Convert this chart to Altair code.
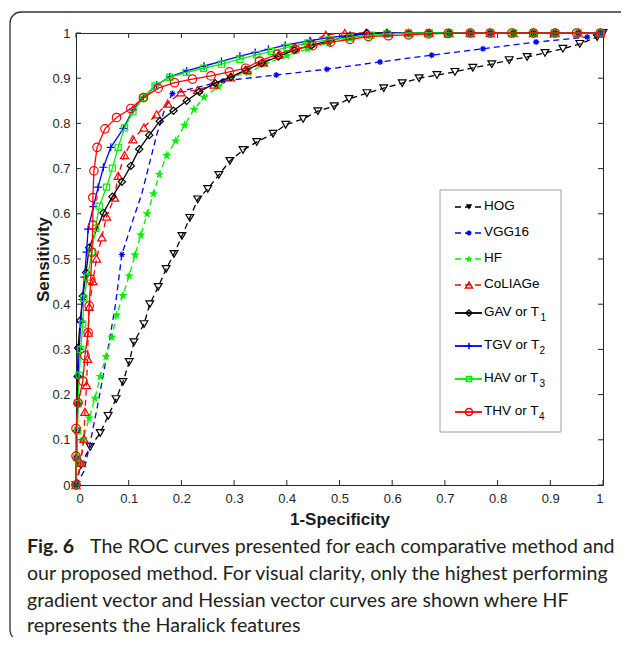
import altair as alt
import pandas as pd

TICKS = [0, 0.1, 0.2, 0.3, 0.4, 0.5, 0.6, 0.7, 0.8, 0.9, 1.0]

HOG_FPR = [0, 0.009, 0.027, 0.046, 0.061, 0.076, 0.089, 0.101, 0.110, 0.129, 0.140, 0.156, 0.171, 0.186, 0.201,
           0.216, 0.231, 0.250, 0.271, 0.292, 0.317, 0.343, 0.374, 0.398, 0.431, 0.459, 0.490, 0.518, 0.552,
           0.584, 0.619, 0.651, 0.685, 0.719, 0.753, 0.789, 0.822, 0.856, 0.890, 0.924, 0.956, 0.989, 1.0]
HOG_TPR = [0, 0.044, 0.084, 0.115, 0.153, 0.190, 0.228, 0.272, 0.316, 0.356, 0.400, 0.438, 0.478, 0.511, 0.551,
           0.591, 0.632, 0.655, 0.686, 0.717, 0.741, 0.759, 0.777, 0.797, 0.810, 0.827, 0.838, 0.854, 0.867,
           0.878, 0.889, 0.900, 0.907, 0.914, 0.923, 0.931, 0.940, 0.947, 0.956, 0.965, 0.976, 0.991, 1.0]

VGG_FPR = [0, 0.015, 0.028, 0.040, 0.052, 0.062, 0.075, 0.087, 0.108, 0.125, 0.153, 0.169, 0.183, 0.279,
           0.380, 0.476, 0.577, 0.675, 0.772, 0.873, 0.970, 1.0]
VGG_TPR = [0, 0.03, 0.10, 0.17, 0.245, 0.31, 0.40, 0.51, 0.586, 0.645, 0.774, 0.834, 0.866, 0.894,
           0.907, 0.920, 0.936, 0.951, 0.965, 0.980, 0.991, 1.0]
VGG_MARKED = [0, 7, 12, 13, 14, 15, 16, 17, 18, 19, 20, 21]

HF_FPR = [0, 0.008, 0.014, 0.025, 0.036, 0.046, 0.057, 0.068, 0.077, 0.089, 0.101, 0.112, 0.123, 0.135,
          0.147, 0.158, 0.172, 0.189, 0.206, 0.224, 0.243, 0.270, 0.295, 0.327, 0.360, 0.400, 0.440, 0.480,
          0.520, 0.555, 0.590, 0.631, 0.670, 0.708, 0.748, 0.786, 0.830, 0.868, 0.909, 0.953, 0.995]
HF_TPR = [0, 0.05, 0.102, 0.148, 0.192, 0.240, 0.284, 0.327, 0.376, 0.419, 0.463, 0.509, 0.553, 0.600,
          0.644, 0.687, 0.729, 0.761, 0.796, 0.831, 0.858, 0.881, 0.903, 0.912, 0.932, 0.950, 0.965, 0.978,
          0.988, 0.994, 0.997, 1, 1, 1, 1, 1, 1, 1, 1, 1, 1]

COL_FPR = [0, 0.009, 0.015, 0.017, 0.020, 0.022, 0.023, 0.025, 0.032, 0.039, 0.049, 0.058, 0.073, 0.080,
           0.092, 0.108, 0.129, 0.153, 0.174, 0.199, 0.231, 0.262, 0.293, 0.325, 0.355, 0.385, 0.415, 0.445,
           0.474, 0.510, 0.550, 0.590, 0.631, 0.670, 0.708, 0.748, 0.786, 0.830, 0.868, 0.909, 0.953, 0.995]
COL_TPR = [0, 0.049, 0.102, 0.162, 0.221, 0.279, 0.337, 0.394, 0.451, 0.501, 0.548, 0.594, 0.636, 0.684,
           0.730, 0.765, 0.791, 0.820, 0.844, 0.869, 0.874, 0.886, 0.902, 0.918, 0.935, 0.952, 0.968, 0.981,
           0.996, 1, 1, 1, 1, 1, 1, 1, 1, 1, 1, 1, 1, 1]

GAV_FPR = [0, 0.001, 0.002, 0.003, 0.003, 0.004, 0.008, 0.013, 0.019, 0.025, 0.052, 0.069, 0.087, 0.104,
           0.120, 0.139, 0.159, 0.185, 0.210, 0.234, 0.264, 0.294, 0.322, 0.352, 0.384, 0.414, 0.447, 0.482,
           0.516, 0.552, 0.590, 0.631, 0.670, 0.708, 0.748, 0.786, 0.830, 0.868, 0.909, 0.953, 0.995]
GAV_TPR = [0, 0.06, 0.12, 0.18, 0.24, 0.303, 0.364, 0.418, 0.470, 0.525, 0.602, 0.638, 0.671, 0.706,
           0.743, 0.774, 0.805, 0.828, 0.850, 0.870, 0.889, 0.903, 0.918, 0.933, 0.948, 0.962, 0.973, 0.983,
           0.992, 1, 1, 1, 1, 1, 1, 1, 1, 1, 1, 1, 1]

TGV_FPR = [0, 0.001, 0.002, 0.003, 0.004, 0.006, 0.009, 0.012, 0.016, 0.020, 0.023, 0.033, 0.042, 0.052,
           0.066, 0.090, 0.108, 0.128, 0.153, 0.178, 0.210, 0.243, 0.276, 0.311, 0.340, 0.365, 0.397, 0.444,
           0.480, 0.520, 0.555, 0.590, 0.631, 0.670, 0.708, 0.748, 0.786, 0.830, 0.868, 0.909, 0.953, 0.995]
TGV_TPR = [0, 0.06, 0.12, 0.18, 0.24, 0.30, 0.36, 0.41, 0.46, 0.515, 0.566, 0.616, 0.659, 0.703,
           0.747, 0.789, 0.830, 0.858, 0.885, 0.903, 0.916, 0.927, 0.937, 0.949, 0.957, 0.964, 0.973, 0.983,
           0.990, 0.995, 0.998, 1, 1, 1, 1, 1, 1, 1, 1, 1, 1, 1]

HAV_FPR = [0, 0.001, 0.003, 0.004, 0.006, 0.009, 0.013, 0.015, 0.022, 0.030, 0.037, 0.044, 0.058, 0.069,
           0.080, 0.092, 0.108, 0.128, 0.150, 0.178, 0.209, 0.242, 0.276, 0.311, 0.343, 0.371, 0.400, 0.440,
           0.480, 0.520, 0.560, 0.590, 0.631, 0.670, 0.708, 0.748, 0.786, 0.830, 0.868, 0.909, 0.953, 0.995]
HAV_TPR = [0, 0.06, 0.12, 0.18, 0.243, 0.30, 0.356, 0.413, 0.46, 0.516, 0.568, 0.617, 0.659, 0.701,
           0.747, 0.790, 0.826, 0.857, 0.883, 0.902, 0.913, 0.922, 0.931, 0.942, 0.952, 0.959, 0.968, 0.978,
           0.985, 0.990, 0.995, 0.998, 1, 1, 1, 1, 1, 1, 1, 1, 1, 1]

THV_FPR = [0, 0, 0, 0.004, 0.013, 0.017, 0.023, 0.025, 0.028, 0.030, 0.032, 0.032, 0.034, 0.040,
           0.055, 0.077, 0.104, 0.128, 0.156, 0.187, 0.221, 0.256, 0.291, 0.322, 0.348, 0.382, 0.416, 0.449,
           0.483, 0.520, 0.555, 0.593, 0.631, 0.669, 0.706, 0.748, 0.786, 0.827, 0.868, 0.909, 0.950, 0.995]
THV_TPR = [0, 0.064, 0.125, 0.182, 0.230, 0.286, 0.337, 0.396, 0.455, 0.515, 0.575, 0.636, 0.695, 0.747,
           0.788, 0.813, 0.833, 0.857, 0.878, 0.890, 0.898, 0.905, 0.914, 0.922, 0.938, 0.953, 0.964, 0.972,
           0.980, 0.986, 0.992, 0.994, 0.996, 0.998, 0.999, 1, 1, 1, 1, 1, 1, 1]

NAMES = ["HOG", "VGG16", "HF", "CoLIAGe", "GAV or T", "TGV or T", "HAV or T", "THV or T"]
SUBS = ["", "", "", "", "1", "2", "3", "4"]

CAPTION_BOLD = "Fig. 6"
CAPTION = [
    "The ROC curves presented for each comparative method and",
    "our proposed method. For visual clarity, only the highest performing",
    "gradient vector and Hessian vector curves are shown where HF",
    "represents the Haralick features",
]

# ---------------------------------------------------------------- styles
W, H = 527, 452
FONT = "Liberation Sans"
CAP_FONT = "Lato"
CAP_SIZE = 19.6
STAR = ("M0,-1L0.235,-0.324L0.951,-0.309L0.380,0.124L0.588,0.809L0,0.400"
        "L-0.588,0.809L-0.380,0.124L-0.951,-0.309L-0.235,-0.324Z")
PLUS = "M-1,0L1,0M0,-1L0,1"
ASTER = "M-1,0L1,0M0,-1L0,1M-0.7,-0.7L0.7,0.7M-0.7,0.7L0.7,-0.7"

STYLES = [
    dict(color="#000000", dash=[6, 4], shape="triangle-down", filled=False, size=60),
    dict(color="#0000ff", dash=[6, 4], shape=ASTER, filled=False, size=36),
    dict(color="#00f000", dash=[6, 4], shape=STAR, filled=True, size=95),
    dict(color="#ff0000", dash=[6, 4], shape="triangle-up", filled=False, size=68),
    dict(color="#000000", dash=None, shape="diamond", filled=False, size=52),
    dict(color="#0000ff", dash=None, shape=PLUS, filled=False, size=64),
    dict(color="#00f000", dash=None, shape="square", filled=False, size=38),
    dict(color="#ff0000", dash=None, shape="circle", filled=False, size=72),
]

SERIES = [
    (HOG_FPR, HOG_TPR, None),
    (VGG_FPR, VGG_TPR, VGG_MARKED),
    (HF_FPR, HF_TPR, None),
    (COL_FPR, COL_TPR, None),
    (GAV_FPR, GAV_TPR, None),
    (TGV_FPR, TGV_TPR, None),
    (HAV_FPR, HAV_TPR, None),
    (THV_FPR, THV_TPR, None),
]

xs = alt.Scale(domain=[0, 1], nice=False, zero=False)
ys = alt.Scale(domain=[0, 1], nice=False, zero=False)
x_axis = alt.Axis(values=TICKS, format=".1~f", ticks=False, domain=False, grid=False,
                  labelFont=FONT, labelFontSize=13, labelColor="#262626", labelPadding=7,
                  title="1-Specificity", titleFont=FONT, titleFontSize=17, titleFontWeight="bold",
                  titleColor="#1a1a1a", titleY=34, titleBaseline="middle")
y_axis = alt.Axis(values=TICKS, format=".1~f", ticks=False, domain=False, grid=False,
                  labelFont=FONT, labelFontSize=13, labelColor="#262626", labelPadding=6,
                  title="Sensitivity", titleFont=FONT, titleFontSize=17, titleFontWeight="bold",
                  titleColor="#1a1a1a", titleX=-33, titleBaseline="middle")
X = alt.X("fpr:Q", scale=xs, axis=x_axis)
Y = alt.Y("tpr:Q", scale=ys, axis=y_axis)

one = alt.Data(values=[{"k": 1}])
layers = []

# figure border (rounded)
layers.append(alt.Chart(one).mark_rect(cornerRadius=11, fillOpacity=0, stroke="#333333",
                                       strokeWidth=1.3).encode(
    x=alt.value(-66), x2=alt.value(580), y=alt.value(-21), y2=alt.value(608)))

# inward ticks on all four sides
tx = pd.DataFrame({"fpr": TICKS})
ty = pd.DataFrame({"tpr": TICKS})
tick_style = dict(color="#262626", strokeWidth=1)
layers.append(alt.Chart(tx).mark_rule(**tick_style).encode(x=X, y=alt.value(H), y2=alt.value(H - 5)))
layers.append(alt.Chart(tx).mark_rule(**tick_style).encode(x=X, y=alt.value(0), y2=alt.value(5)))
layers.append(alt.Chart(ty).mark_rule(**tick_style).encode(y=Y, x=alt.value(0), x2=alt.value(5)))
layers.append(alt.Chart(ty).mark_rule(**tick_style).encode(y=Y, x=alt.value(W), x2=alt.value(W - 5)))

# curves
for (fx, fy, marked), st in zip(SERIES, STYLES):
    df = pd.DataFrame({"fpr": fx, "tpr": fy, "i": list(range(len(fx)))})
    lk = dict(color=st["color"], strokeWidth=1.3)
    if st["dash"]:
        lk["strokeDash"] = st["dash"]
    layers.append(alt.Chart(df).mark_line(**lk).encode(x=X, y=Y, order="i:Q"))
    pdf = df if marked is None else df.iloc[marked]
    pk = dict(shape=st["shape"], size=st["size"], strokeWidth=1.2, opacity=1,
              filled=bool(st["filled"]), color=st["color"])
    layers.append(alt.Chart(pdf).mark_point(**pk).encode(x=X, y=Y))

# legend
LX0, LM, LT = 379, 393, 408
ROWS_Y = [174, 200, 226, 252, 280, 313, 346, 379]
SUB_X = [0, 0, 0, 0, 464.5, 463.5, 463.5, 463]
layers.append(alt.Chart(one).mark_rect(fill="white", stroke="#a0a0a0", strokeWidth=1).encode(
    x=alt.value(364), x2=alt.value(485), y=alt.value(157), y2=alt.value(399)))
for k, st in enumerate(STYLES):
    yy = ROWS_Y[k]
    lk = dict(color=st["color"], strokeWidth=1.3 if st["dash"] else 1.8)
    if st["dash"]:
        lk["strokeDash"] = st["dash"]
    layers.append(alt.Chart(one).mark_rule(**lk).encode(
        x=alt.value(LX0), x2=alt.value(LX0 + 27), y=alt.value(yy)))
    pk = dict(shape=st["shape"], size=st["size"] * 0.7, strokeWidth=1.5, color=st["color"],
              filled=bool(st["filled"] or k == 0), opacity=1)
    layers.append(alt.Chart(one).mark_point(**pk).encode(x=alt.value(LM), y=alt.value(yy)))
    layers.append(alt.Chart(one).mark_text(align="left", baseline="middle", font=FONT,
                                           fontSize=13.5, color="#000000").encode(
        x=alt.value(LT), y=alt.value(yy - 1), text=alt.value(NAMES[k])))
    if SUBS[k]:
        layers.append(alt.Chart(one).mark_text(align="left", baseline="middle", font=FONT,
                                               fontSize=10, color="#000000").encode(
            x=alt.value(SUB_X[k]), y=alt.value(yy + 5), text=alt.value(SUBS[k])))

# caption
CAP_Y = [514, 541, 567.5, 592.5]
layers.append(alt.Chart(one).mark_text(align="left", baseline="middle", font=CAP_FONT, fontSize=CAP_SIZE,
                                       fontWeight="bold", color="#231f20").encode(
    x=alt.value(-49), y=alt.value(CAP_Y[0]), text=alt.value(CAPTION_BOLD)))
for j, line in enumerate(CAPTION):
    layers.append(alt.Chart(one).mark_text(align="left", baseline="middle", font=CAP_FONT,
                                           fontSize=CAP_SIZE, color="#231f20").encode(
        x=alt.value(14 if j == 0 else -49), y=alt.value(CAP_Y[j]), text=alt.value(line)))

chart = alt.layer(*layers).properties(
    width=W, height=H,
    autosize=alt.AutoSizeParams(type="none"),
    padding={"left": 68, "top": 25, "right": 18, "bottom": 152},
    background="white",
).configure_view(stroke="#262626", strokeWidth=1)

chart.save("out.html", embed_options={"renderer": "svg", "actions": False})
